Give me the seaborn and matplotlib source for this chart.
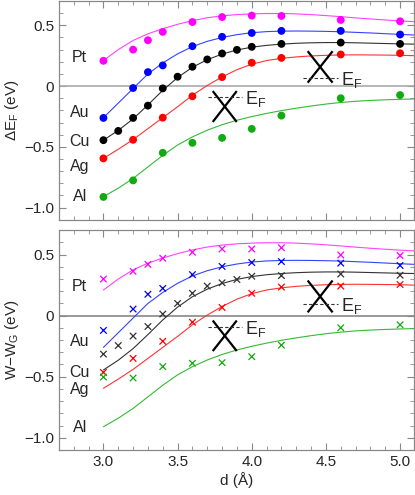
import numpy as np
import pandas as pd
import matplotlib
matplotlib.use("Agg")
import matplotlib.pyplot as plt
import seaborn as sns
from matplotlib.ticker import MultipleLocator, FixedLocator, FixedFormatter

# model curves (same in both panels)
d_curve = [3.0, 3.1, 3.2, 3.3, 3.4, 3.5, 3.6, 3.7, 3.8, 3.9, 4.0,
           4.1, 4.2, 4.3, 4.4, 4.5, 4.6, 4.7, 4.8, 4.9, 5.0, 5.1]
pt_curve = [0.21, 0.30, 0.375, 0.43, 0.472, 0.508, 0.538, 0.562, 0.578, 0.588, 0.594,
            0.597, 0.597, 0.594, 0.588, 0.58, 0.571, 0.561, 0.552, 0.544, 0.536, 0.53]
au_curve = [-0.26, -0.14, -0.02, 0.10, 0.19, 0.265, 0.325, 0.368, 0.40, 0.423, 0.439,
            0.448, 0.452, 0.453, 0.452, 0.45, 0.447, 0.442, 0.437, 0.431, 0.425, 0.42]
cu_curve = [-0.445, -0.365, -0.27, -0.155, -0.035, 0.07, 0.155, 0.217, 0.263, 0.297, 0.32,
            0.335, 0.345, 0.352, 0.356, 0.358, 0.358, 0.356, 0.353, 0.35, 0.347, 0.345]
ag_curve = [-0.595, -0.52, -0.44, -0.35, -0.26, -0.17, -0.075, 0.005, 0.075, 0.135, 0.18,
            0.21, 0.228, 0.24, 0.248, 0.253, 0.256, 0.257, 0.256, 0.255, 0.253, 0.25]
al_curve = [-0.91, -0.84, -0.76, -0.665, -0.57, -0.485, -0.418, -0.363, -0.318, -0.281, -0.251,
            -0.225, -0.202, -0.182, -0.164, -0.148, -0.135, -0.125, -0.118, -0.113, -0.109, -0.106]

# computed points
d_pt = [3.0, 3.2, 3.3, 3.4, 3.6, 3.8, 4.0, 4.2, 4.6, 5.0]
d_au = [3.0, 3.2, 3.3, 3.4, 3.6, 3.8, 4.0, 4.2, 4.6, 5.0]
d_cu = [3.0, 3.1, 3.2, 3.3, 3.4, 3.5, 3.6, 3.7, 3.8, 3.9, 4.0, 4.2, 4.6, 5.0]
d_ag = [3.0, 3.2, 3.4, 3.6, 3.8, 4.0, 4.2, 4.6, 5.0]
d_al = [3.0, 3.2, 3.4, 3.6, 3.8, 4.0, 4.2, 4.6, 5.0]

# top panel: Delta E_F
ef_pt = [0.208, 0.30, 0.377, 0.446, 0.527, 0.568, 0.58, 0.577, 0.544, 0.533]
ef_au = [-0.262, -0.016, 0.115, 0.17, 0.328, 0.405, 0.437, 0.454, 0.454, 0.424]
ef_cu = [-0.445, -0.369, -0.262, -0.161, -0.019, 0.077, 0.159, 0.219, 0.268, 0.298,
         0.323, 0.347, 0.358, 0.347]
ef_ag = [-0.595, -0.442, -0.26, -0.084, 0.074, 0.192, 0.232, 0.26, 0.27]
ef_al = [-0.912, -0.776, -0.549, -0.467, -0.426, -0.352, -0.243, -0.10, -0.074]

# bottom panel: W - W_G
w_pt = [0.30, 0.363, 0.42, 0.47, 0.519, 0.546, 0.546, 0.556, 0.497, 0.492]
w_au = [-0.121, 0.054, 0.175, 0.223, 0.336, 0.403, 0.435, 0.443, 0.43, 0.411]
w_cu = [-0.315, -0.245, -0.167, -0.089, 0.013, 0.10, 0.183, 0.242, 0.269, 0.296,
        0.323, 0.328, 0.341, 0.331]
w_ag = [-0.465, -0.35, -0.21, -0.054, 0.067, 0.183, 0.234, 0.242, 0.255]
w_al = [-0.503, -0.511, -0.417, -0.39, -0.385, -0.336, -0.242, -0.099, -0.075]

metals = ["Pt", "Au", "Cu", "Ag", "Al"]
dot_colors = {"Pt": "#ff00ff", "Au": "#0000ff", "Cu": "#000000", "Ag": "#ff0000", "Al": "#11aa11"}
line_colors = {"Pt": "#ff44ff", "Au": "#3344ff", "Cu": "#333333", "Ag": "#ff3333", "Al": "#33bb33"}
cross_colors = {"Pt": "#ff00ff", "Au": "#0000ff", "Cu": "#333333", "Ag": "#ff0000", "Al": "#11aa11"}

curve_df = pd.concat([
    pd.DataFrame({"d": d_curve, "v": c, "metal": m})
    for m, c in zip(metals, [pt_curve, au_curve, cu_curve, ag_curve, al_curve])
])
xs = [d_pt, d_au, d_cu, d_ag, d_al]
ef_df = pd.concat([pd.DataFrame({"d": x, "v": v, "metal": m})
                   for m, x, v in zip(metals, xs, [ef_pt, ef_au, ef_cu, ef_ag, ef_al])])
w_df = pd.concat([pd.DataFrame({"d": x, "v": v, "metal": m})
                  for m, x, v in zip(metals, xs, [w_pt, w_au, w_cu, w_ag, w_al])])

sns.set_style("ticks")
plt.rcParams["font.family"] = ["Liberation Sans", "DejaVu Sans"]
plt.rcParams["mathtext.fontset"] = "custom"
plt.rcParams["mathtext.rm"] = "Liberation Sans"
plt.rcParams["mathtext.it"] = "Liberation Sans:italic"
plt.rcParams["font.size"] = 9.5

fig = plt.figure(figsize=(4.15, 4.95), dpi=100)
ax1 = fig.add_axes([0.142, 0.556, 0.856, 0.442])
ax2 = fig.add_axes([0.142, 0.091, 0.856, 0.444])

# label positions (left side)
lab_top = {"Pt": 0.235, "Au": -0.216, "Cu": -0.453, "Ag": -0.658, "Al": -0.912}
lab_bot = {"Pt": 0.236, "Au": -0.215, "Cu": -0.465, "Ag": -0.605, "Al": -0.919}


def cone(ax, x0, x1, y0, y1, yd):
    ax.plot([x0, x1], [y1, y0], color="black", lw=1.6, solid_capstyle="butt")
    ax.plot([x0, x1], [y0, y1], color="black", lw=1.6, solid_capstyle="butt")
    ax.plot([x0 - 0.03, x1 + 0.035], [yd, yd], color="#333333", lw=0.8, ls=(0, (3, 2)))
    ax.text(x1 + 0.055, yd - 0.015, r"E$_\mathrm{F}$", fontsize=13, va="center", ha="left")


for ax, pts, labs in [(ax1, ef_df, lab_top), (ax2, w_df, lab_bot)]:
    ax.axhline(0, color="#aaaaaa" if ax is ax1 else "#888888", lw=1.2, zorder=1)
    sns.lineplot(data=curve_df, x="d", y="v", hue="metal", hue_order=metals,
                 palette=line_colors, lw=0.8, legend=False, ax=ax, zorder=2)
    if ax is ax1:
        sns.scatterplot(data=pts, x="d", y="v", hue="metal", hue_order=metals,
                        palette=dot_colors, s=32, linewidth=0, legend=False, ax=ax, zorder=3)
    else:
        sns.scatterplot(data=pts, x="d", y="v", hue="metal", hue_order=metals,
                        palette=cross_colors, marker="x", s=22, linewidth=0.9,
                        legend=False, ax=ax, zorder=3)
    for m in metals:
        ax.text(2.84, labs[m], m, ha="center", va="center", fontsize=11.5)

    ax.set_xlim(2.7, 5.095)
    ax.set_ylim(-1.1, 0.7)
    ax.xaxis.set_major_locator(MultipleLocator(0.5))
    ax.xaxis.set_minor_locator(MultipleLocator(0.1))
    ax.yaxis.set_major_locator(FixedLocator([-1.0, -0.5, 0, 0.5]))
    ax.yaxis.set_major_formatter(FixedFormatter(["\u22121.0", "\u22120.5", "0", "0.5"]))
    ax.yaxis.set_minor_locator(MultipleLocator(0.1))
    ax.tick_params(which="both", direction="in", top=True, right=True,
                   color="#888888", labelsize=11)
    ax.tick_params(which="major", length=5, width=0.8)
    ax.tick_params(which="minor", length=3, width=0.6)
    for sp in ax.spines.values():
        sp.set_color("#888888")
        sp.set_linewidth(0.9)

cone(ax1, 3.737, 3.899, -0.041, -0.295, -0.09)
cone(ax1, 4.377, 4.545, 0.287, 0.028, 0.069)
cone(ax2, 3.737, 3.899, -0.04, -0.29, -0.094)
cone(ax2, 4.377, 4.545, 0.288, 0.027, 0.094)

ax1.set_xticklabels([])
ax1.set_xlabel("")
ax1.set_ylabel(r"ΔE$_\mathrm{F}$ (eV)", fontsize=11, labelpad=2)
ax2.set_ylabel(r"W$-$W$_\mathrm{G}$ (eV)", fontsize=11, labelpad=2)
ax2.set_xlabel("d (Å)", fontsize=11, labelpad=2)

fig.savefig("out.png", dpi=100)
